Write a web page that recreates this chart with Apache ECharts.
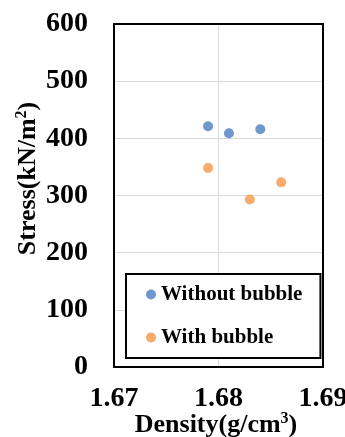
<!DOCTYPE html>
<html>
<head>
<meta charset="utf-8">
<script src="https://cdn.jsdelivr.net/npm/echarts@6/dist/echarts.min.js"></script>
<style>
html,body{margin:0;padding:0;background:#fff;}
#c{width:345px;height:437px;}
</style>
</head>
<body>
<div id="c"></div>
<script>
const seriesNames = ['Without bubble', 'With bubble'];
const withoutBubble = [[1.6790, 421], [1.6810, 409], [1.6840, 416]];
const withBubble = [[1.6790, 348], [1.6830, 293], [1.6860, 323]];
const xTicks = [1.67, 1.68, 1.69];
const yTicks = [0, 100, 200, 300, 400, 500, 600];

const FONT = '"Liberation Serif", "Times New Roman", serif';
const chart = echarts.init(document.getElementById('c'), null, {renderer: 'canvas'});
chart.setOption({
  animation: false,
  backgroundColor: '#fff',
  grid: {left: 114, right: 22, top: 24, bottom: 70, outerBoundsMode: 'none', containLabel: false},
  xAxis: [{
    type: 'value', min: xTicks[0], max: xTicks[xTicks.length - 1], interval: 0.01,
    axisLine: {show: true, onZero: false, lineStyle: {color: '#000', width: 2}}, axisTick: {show: false},
    splitLine: {show: true, showMinLine: false, showMaxLine: false, lineStyle: {color: '#d9d9d9', width: 1}},
    axisLabel: {fontFamily: FONT, fontWeight: 'bold', fontSize: 28, color: '#000', margin: 18,
      formatter: v => v.toFixed(2)},
    name: 'Density(g/cm{sup|3})', nameLocation: 'middle', nameGap: 44, nameMoveOverlap: false,
    nameTextStyle: {fontFamily: FONT, fontWeight: 'bold', fontSize: 26, color: '#000', padding: [0, 5, 0, 0],
      rich: {sup: {fontFamily: FONT, fontWeight: 'bold', fontSize: 16, color: '#000', padding: [0,0,12,0]}}}
  }, {
    type: 'value', position: 'top', min: xTicks[0], max: xTicks[xTicks.length - 1], interval: 0.01,
    axisLine: {show: true, onZero: false, lineStyle: {color: '#000', width: 2}}, axisTick: {show: false},
    axisLabel: {show: false}, splitLine: {show: false}
  }],
  yAxis: [{
    type: 'value', min: yTicks[0], max: yTicks[yTicks.length - 1], interval: 100,
    axisLine: {show: true, onZero: false, lineStyle: {color: '#000', width: 2}}, axisTick: {show: false},
    splitLine: {show: true, showMinLine: false, showMaxLine: false, lineStyle: {color: '#d9d9d9', width: 1}},
    axisLabel: {fontFamily: FONT, fontWeight: 'bold', fontSize: 28, color: '#000', margin: 26},
    name: 'Stress(kN/m{sup|2})', nameLocation: 'middle', nameGap: 72, nameRotate: 90, nameMoveOverlap: false,
    nameTextStyle: {fontFamily: FONT, fontWeight: 'bold', fontSize: 26, color: '#000', padding: [0, 0, 0, 34],
      rich: {sup: {fontFamily: FONT, fontWeight: 'bold', fontSize: 16, color: '#000', padding: [0,0,12,0]}}}
  }, {
    type: 'value', position: 'right', min: yTicks[0], max: yTicks[yTicks.length - 1], interval: 100,
    axisLine: {show: true, onZero: false, lineStyle: {color: '#000', width: 2}}, axisTick: {show: false},
    axisLabel: {show: false}, splitLine: {show: false}
  }],
  legend: {
    orient: 'vertical', left: 126, top: 274,
    padding: [10, 18, 10, 20], itemGap: 22,
    borderColor: '#000', borderWidth: 2, backgroundColor: '#fff',
    icon: 'circle', itemWidth: 10, itemHeight: 10,
    textStyle: {fontFamily: FONT, fontWeight: 'bold', fontSize: 21, color: '#000'},
    data: seriesNames
  },
  series: [
    {name: seriesNames[0], type: 'scatter', data: withoutBubble, symbolSize: 10, itemStyle: {color: '#4a7ec2'}},
    {name: seriesNames[1], type: 'scatter', data: withBubble, symbolSize: 10, itemStyle: {color: '#f79646'}}
  ]
});
</script>
</body>
</html>
